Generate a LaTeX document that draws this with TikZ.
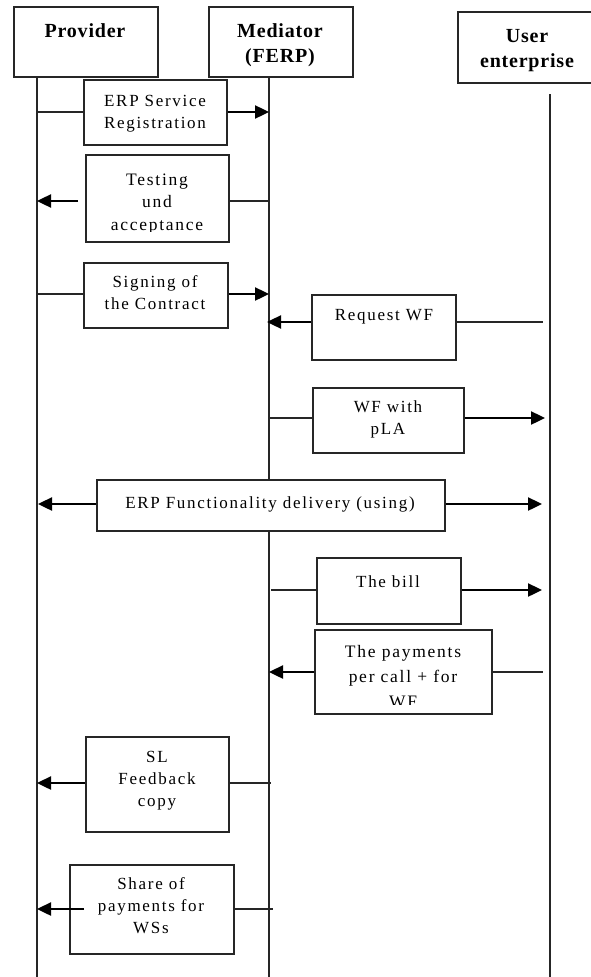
\documentclass[tikz,border=0pt]{standalone}
\usepackage{fontspec}
\setmainfont{Liberation Serif}
\newfontfamily\boxfont[LetterSpace=10]{Liberation Serif}
\newfontfamily\headfont[LetterSpace=4]{Liberation Serif}
\usetikzlibrary{arrows.meta}
\begin{document}
\begin{tikzpicture}[x=1pt,y=-1pt,
  box/.style={draw=black!85, line width=1.6pt, fill=white, inner sep=0pt, anchor=north west},
  head/.style={font=\headfont\bfseries\fontsize{20}{25}\selectfont, align=center, inner sep=0pt, anchor=base},
  lbl/.style={font=\boxfont\fontsize{17}{22}\selectfont, align=center, inner sep=0pt, anchor=base},
  life/.style={draw=black!85, line width=1.6pt},
  tail/.style={draw=black!85, line width=1.3pt},
  msg/.style={draw=black, line width=2.4pt, -{Triangle[length=14pt,width=13pt]}},
]
\useasboundingbox (0,0) rectangle (590,977);
% lifeline positions
\coordinate (PL) at (37,0);
\coordinate (ML) at (269,0);
\coordinate (UL) at (550,0);
\coordinate (UE) at (543,0);
\coordinate (bot) at (0,980);
\coordinate (utop) at (0,94);
% actor boxes
\node[box, minimum width=144pt, minimum height=70pt] (prov) at (13,6) {};
\node[box, minimum width=144pt, minimum height=70pt] (med) at (208,6) {};
\node[box, minimum width=143pt, minimum height=71pt] (user) at (457,11) {};
% anchor=base of a multi-line text is the baseline of its last line
\node[head] (provt) at (85,37) {Provider};
\node[head] (medt) at (280,62) {Mediator\\(FERP)};
\node[head] (usert) at (527,67) {User\\enterprise};
% lifelines
\draw[life] (PL |- prov.south) -- (PL |- bot);
\draw[life] (ML |- med.south) -- (ML |- bot);
\draw[life] (UL |- utop) -- (UL |- bot);
% message boxes
\node[box, minimum width=143pt, minimum height=65pt] (reg) at (83,79) {};
\node[box, minimum width=143pt, minimum height=87pt] (test) at (85,154) {};
\node[box, minimum width=144pt, minimum height=65pt] (sign) at (83,262) {};
\node[box, minimum width=144pt, minimum height=65pt] (req) at (311,294) {};
\node[box, minimum width=151pt, minimum height=65pt] (wfp) at (312,387) {};
\node[box, minimum width=348pt, minimum height=51pt] (func) at (96,479) {};
\node[box, minimum width=144pt, minimum height=66pt] (bill) at (316,557) {};
\node[box, minimum width=177pt, minimum height=84pt] (pay) at (314,629) {};
\node[box, minimum width=143pt, minimum height=95pt] (slf) at (85,736) {};
\node[box, minimum width=164pt, minimum height=89pt] (share) at (69,864) {};
% labels
\node[lbl] (regt) at (155,128) {ERP Service\\Registration};
\begin{scope}
\clip (86,156) rectangle (226,231.5);
\node[lbl, font=\boxfont\fontsize{17.5}{22.5}\selectfont] (testt) at (157,230) {Testing\\und\\acceptance};
\end{scope}
\node[lbl] (signt) at (155,309) {Signing of\\the Contract};
\node[lbl] (reqt) at (384,320) {Request WF};
\node[lbl] (wfpt) at (388,434) {WF with\\pLA};
\node[lbl] (funct) at (270,508) {ERP Functionality delivery (using)};
\node[lbl] (billt) at (388,587) {The bill};
\begin{scope}
\clip (316,631) rectangle (489,704);
\node[lbl, font=\boxfont\fontsize{17.5}{25}\selectfont] (payt) at (403,707) {The payments\\per call + for\\WF};
\end{scope}
\node[lbl] (slft) at (157,806) {SL\\Feedback\\copy};
\node[lbl] (sharet) at (151,933) {Share of\\payments for\\WSs};
% message y levels
\coordinate (y1) at (0,112);
\coordinate (y2) at (0,201);
\coordinate (y3) at (0,294);
\coordinate (y4) at (0,322);
\coordinate (y5) at (0,418);
\coordinate (y6) at (0,504);
\coordinate (y7) at (0,590);
\coordinate (y8) at (0,672);
\coordinate (y9) at (0,783);
\coordinate (y10) at (0,909);
% messages
\draw[tail] (PL |- y1) -- (reg.west |- y1);
\draw[msg] (reg.east |- y1) -- (ML |- y1);
\draw[tail] (ML |- y2) -- (test.east |- y2);
\draw[msg] ([xshift=-7pt]test.west |- y2) -- (PL |- y2);
\draw[tail] (PL |- y3) -- (sign.west |- y3);
\draw[msg] (sign.east |- y3) -- (ML |- y3);
\draw[msg] (req.west |- y4) -- ([xshift=-2pt]ML |- y4);
\draw[tail] (req.east |- y4) -- (UE |- y4);
\draw[tail] (ML |- y5) -- (wfp.west |- y5);
\draw[msg] (wfp.east |- y5) -- ([xshift=2pt]UE |- y5);
\draw[msg] (func.west |- y6) -- ([xshift=1pt]PL |- y6);
\draw[msg] (func.east |- y6) -- ([xshift=-1pt]UE |- y6);
\draw[tail] ([xshift=2pt]ML |- y7) -- (bill.west |- y7);
\draw[msg] (bill.east |- y7) -- ([xshift=-1pt]UE |- y7);
\draw[msg] (pay.west |- y8) -- (ML |- y8);
\draw[tail] (pay.east |- y8) -- (UE |- y8);
\draw[msg] (slf.west |- y9) -- (PL |- y9);
\draw[tail] (slf.east |- y9) -- ([xshift=2pt]ML |- y9);
\draw[msg] ([xshift=15pt]share.west |- y10) -- (PL |- y10);
\draw[tail] (share.east |- y10) -- ([xshift=4pt]ML |- y10);
\end{tikzpicture}
\end{document}
